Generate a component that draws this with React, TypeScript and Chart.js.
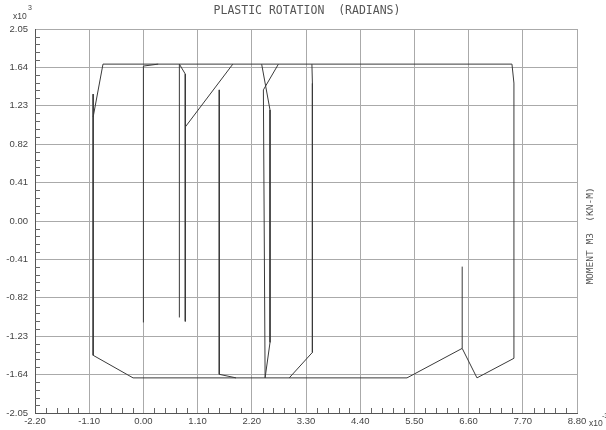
import React, { useEffect, useRef } from "react";
import { Chart, registerables } from "chart.js";

Chart.register(...registerables);

// Plastic rotation (x10^-3 rad) and moment M3 (x10^3 kN-m); null separates strokes
const rotation: (number | null)[] = [
  -1.02, -1.02, -0.21, 5.35, 6.47, 6.47, null,
  6.47, 6.77, 7.52, 7.52, 7.48, -0.82, -1.02, null,
  0.0, 0.0, 0.3, null,
  0.73, 0.73, 0.85, 0.85, null,
  0.85, 1.815, null,
  1.54, 1.54, 1.88, null,
  2.4, 2.57, 2.57, 2.47, 2.435, 2.74, null,
  3.42, 3.43, 3.43, 2.96,
];
const moment: (number | null)[] = [
  1.355, -1.434, -1.675, -1.675, -1.36, -0.487, null,
  -1.36, -1.675, -1.466, 1.473, 1.675, 1.675, 1.11, null,
  -1.083, 1.654, 1.675, null,
  -1.03, 1.675, 1.569, -1.072, null,
  1.004, 1.675, null,
  1.4, -1.637, -1.675, null,
  1.675, 1.185, -1.296, -1.675, 1.4, 1.675, null,
  1.675, 1.47, -1.403, -1.675,
];

const xTickValues = [-2.2, -1.1, 0, 1.1, 2.2, 3.3, 4.4, 5.5, 6.6, 7.7, 8.8];
const yTickValues = [-2.05, -1.64, -1.23, -0.82, -0.41, 0, 0.41, 0.82, 1.23, 1.64, 2.05];

const titleText = "PLASTIC ROTATION  (RADIANS)";
const yAxisTitle = "MOMENT M3  (KN-M)";

const tickFont = { family: "'Liberation Sans Narrow', 'Arial Narrow', 'Liberation Sans', Arial, sans-serif", size: 9.5 };

const decorPlugin = {
  id: "decor",
  afterDraw(chart: any) {
    const ctx = chart.ctx as CanvasRenderingContext2D;
    const xs = chart.scales.x;
    const ys = chart.scales.y;
    const area = chart.chartArea;
    ctx.save();
    // minor ticks
    ctx.strokeStyle = "#666";
    ctx.lineWidth = 1;
    ctx.beginPath();
    for (let i = 0; i < yTickValues.length - 1; i++) {
      const a = yTickValues[i], b = yTickValues[i + 1];
      for (let k = 1; k < 5; k++) {
        const py = Math.round(ys.getPixelForValue(a + ((b - a) * k) / 5)) + 0.5;
        ctx.moveTo(area.left, py);
        ctx.lineTo(area.left + 5, py);
      }
    }
    for (let i = 0; i < xTickValues.length - 1; i++) {
      const a = xTickValues[i], b = xTickValues[i + 1];
      for (let k = 1; k < 5; k++) {
        const px = Math.round(xs.getPixelForValue(a + ((b - a) * k) / 5)) + 0.5;
        ctx.moveTo(px, area.bottom);
        ctx.lineTo(px, area.bottom - 5);
      }
    }
    ctx.stroke();

    // title
    ctx.fillStyle = "#555";
    ctx.font = "11.5px 'DejaVu Sans Mono', 'Liberation Mono', monospace";
    ctx.textAlign = "center";
    ctx.textBaseline = "middle";
    ctx.fillText(titleText, (area.left + area.right) / 2 + 1, 11);

    // right rotated title
    ctx.save();
    ctx.translate(area.right + 14, (area.top + area.bottom) / 2 + 15);
    ctx.rotate(-Math.PI / 2);
    ctx.font = "9.5px 'DejaVu Sans Mono', 'Liberation Mono', monospace";
    ctx.fillText(yAxisTitle, 0, 0);
    ctx.restore();

    // multipliers
    ctx.fillStyle = "#444";
    ctx.textAlign = "left";
    ctx.textBaseline = "alphabetic";
    ctx.font = "8.5px 'Liberation Sans Narrow', 'Liberation Sans', Arial, sans-serif";
    ctx.fillText("x10", 13, 18.5);
    ctx.font = "7px 'Liberation Sans Narrow', 'Liberation Sans', Arial, sans-serif";
    ctx.fillText("3", 28, 10);
    ctx.font = "8.5px 'Liberation Sans Narrow', 'Liberation Sans', Arial, sans-serif";
    ctx.fillText("x10", area.right + 12, area.bottom + 12.5);
    ctx.font = "7px 'Liberation Sans Narrow', 'Liberation Sans', Arial, sans-serif";
    ctx.fillText("-3", area.right + 25, area.bottom + 5);
    ctx.restore();
  },
};

export default function App() {
  const ref = useRef<HTMLCanvasElement | null>(null);
  useEffect(() => {
    if (!ref.current) return;
    const data = rotation.map((x, i) => ({ x: x as any, y: moment[i] as any }));
    const chart = new Chart(ref.current, {
      type: "scatter",
      data: {
        datasets: [
          {
            data,
            showLine: true,
            spanGaps: false,
            borderColor: "#3a3a3a",
            borderWidth: 1,
            pointRadius: 0,
            pointHoverRadius: 0,
            tension: 0,
          },
        ],
      },
      options: {
        responsive: false,
        animation: false,
        events: [],
        layout: { padding: { top: 29, right: 29, left: 0, bottom: 0 } },
        plugins: { legend: { display: false }, tooltip: { enabled: false } },
        scales: {
          x: {
            type: "linear",
            min: -2.2,
            max: 8.8,
            afterBuildTicks: (s: any) => {
              s.ticks = xTickValues.map((v) => ({ value: v }));
            },
            afterFit: (s: any) => {
              s.height = 17;
            },
            ticks: {
              padding: 3,
              color: "#444",
              font: tickFont,
              maxRotation: 0,
              autoSkip: false,
              callback: (v: any) => Number(v).toFixed(2),
            },
            grid: { color: "#aaa", lineWidth: 1, drawTicks: false },
            border: { color: "#555", width: 1 },
          },
          y: {
            type: "linear",
            min: -2.05,
            max: 2.05,
            afterBuildTicks: (s: any) => {
              s.ticks = yTickValues.map((v) => ({ value: v }));
            },
            afterFit: (s: any) => {
              s.width = 35;
            },
            ticks: {
              padding: 7,
              color: "#444",
              font: tickFont,
              autoSkip: false,
              callback: (v: any) => Number(v).toFixed(2),
            },
            grid: { color: "#aaa", lineWidth: 1, drawTicks: false },
            border: { color: "#555", width: 1 },
          },
        },
      },
      plugins: [decorPlugin],
    });
    return () => chart.destroy();
  }, []);
  return (
    <div style={{ position: "fixed", left: 0, top: 0, width: 606, height: 430, background: "#fff" }}>
      <canvas ref={ref} width={606} height={430} style={{ display: "block" }} />
    </div>
  );
}
